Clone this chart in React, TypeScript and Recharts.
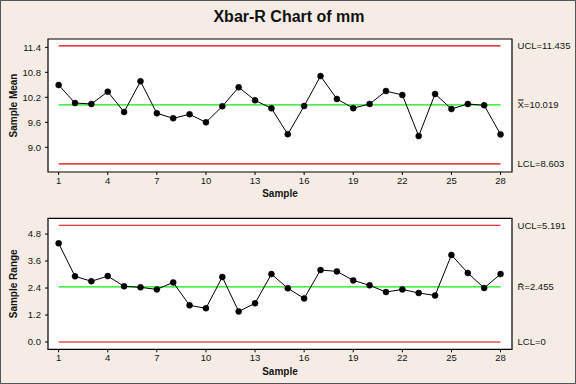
import { LineChart, Line, XAxis, YAxis, ReferenceLine, ReferenceArea } from 'recharts'

const samples = Array.from({ length: 28 }, (_, i) => i + 1)
const sampleMeans = [
  10.495, 10.063, 10.04, 10.335, 9.847, 10.584, 9.816, 9.696, 9.792, 9.6,
  9.984, 10.44, 10.128, 9.936, 9.312, 9.99, 10.71, 10.16, 9.94, 10.04,
  10.35, 10.256, 9.27, 10.28, 9.92, 10.04, 10.008, 9.31,
]
const sampleRanges = [
  4.386, 2.92, 2.7, 2.93, 2.475, 2.43, 2.34, 2.65, 1.63, 1.5,
  2.89, 1.36, 1.72, 3.02, 2.39, 1.94, 3.2, 3.14, 2.74, 2.52,
  2.22, 2.34, 2.18, 2.07, 3.87, 3.07, 2.4, 3.02,
]
const xTicks = [1, 4, 7, 10, 13, 16, 19, 22, 25, 28]
const meanTicks = [9.0, 9.6, 10.2, 10.8, 11.4]
const rangeTicks = [0, 1.2, 2.4, 3.6, 4.8]
const meanLimits = { ucl: 11.435, center: 10.019, lcl: 8.603 }
const rangeLimits = { ucl: 5.191, center: 2.455, lcl: 0 }

const meanData = samples.map((s, i) => ({ sample: s, value: sampleMeans[i] }))
const rangeData = samples.map((s, i) => ({ sample: s, value: sampleRanges[i] }))

const FONT = '"Liberation Sans", Arial, sans-serif'
const tick = { fontSize: 9.5, fill: '#141414', fontFamily: FONT }
const red = '#E00000'
const green = '#10E810'

const xDomain: [number, number] = [0.35, 28.7]

function limitLabel(text: string) {
  return { value: text, position: 'right' as const, offset: 17, fontSize: 9.5, fill: '#141414', fontFamily: FONT }
}

function ControlChart(props: {
  data: { sample: number; value: number }[]
  domain: [number, number]
  ticks: number[]
  limits: { ucl: number; center: number; lcl: number }
  yLabel: string
  centerText: string
  uclText: string
  lclText: string
  marginTop: number
  marginBottom: number
  height: number
  labelOffset: number
}) {
  const { data, domain, ticks, limits } = props
  // control limits run from the first to the last sample only
  const seg = (y: number) => [{ x: 1, y }, { x: 28, y }]
  return (
    <LineChart
      width={576}
      height={props.height}
      data={data}
      margin={{ top: props.marginTop, right: 64, bottom: props.marginBottom, left: 8 }}
    >
      <XAxis
        dataKey="sample"
        type="number"
        domain={xDomain}
        ticks={xTicks}
        tick={tick}
        tickSize={3}
        tickMargin={2}
        tickLine={{ stroke: '#000' }}
        axisLine={false}
        height={28}
        label={{ value: 'Sample', position: 'insideBottom', offset: props.labelOffset, fontSize: 10, fontWeight: 'bold', fill: '#141414', fontFamily: FONT }}
      />
      <YAxis
        type="number"
        domain={domain}
        ticks={ticks}
        tick={tick}
        tickFormatter={(v: number) => v.toFixed(1)}
        tickSize={3}
        tickMargin={4}
        tickLine={{ stroke: '#000' }}
        axisLine={false}
        width={40}
        allowDataOverflow
        label={{ value: props.yLabel, angle: -90, position: 'insideLeft', offset: 0, dx: 5, fontSize: 10, fontWeight: 'bold', fill: '#141414', fontFamily: FONT, style: { textAnchor: 'middle' } }}
      />
      <ReferenceArea x1={xDomain[0]} x2={xDomain[1]} y1={domain[0]} y2={domain[1]} fill="#ffffff" fillOpacity={1} stroke="#000" strokeWidth={1.2} />
      <ReferenceLine segment={seg(limits.ucl)} stroke={red} strokeWidth={1.2} label={limitLabel(props.uclText)} />
      <ReferenceLine segment={seg(limits.center)} stroke={green} strokeWidth={1.3} label={limitLabel(props.centerText)} />
      <ReferenceLine segment={seg(limits.lcl)} stroke={red} strokeWidth={1.2} label={limitLabel(props.lclText)} />
      <Line
        dataKey="value"
        type="linear"
        stroke="#000"
        strokeWidth={1}
        dot={{ r: 3, fill: '#000', stroke: '#000', strokeWidth: 0.5 }}
        isAnimationActive={false}
      />
    </LineChart>
  )
}

export default function App() {
  return (
    <div
      style={{
        position: 'fixed',
        top: 0,
        left: 0,
        width: 576,
        height: 384,
        boxSizing: 'border-box',
        border: '1px solid #555',
        background: '#F4ECE5',
        overflow: 'hidden',
        fontFamily: FONT,
      }}
    >
      <div
        style={{
          position: 'absolute',
          top: 7,
          left: 0,
          width: 576,
          textAlign: 'center',
          fontSize: 16,
          fontWeight: 'bold',
          color: '#111',
        }}
      >
        Xbar-R Chart of mm
      </div>
      <div style={{ position: 'absolute', top: -1, left: -1 }}>
        <ControlChart
          data={meanData}
          domain={[8.407, 11.6]}
          ticks={meanTicks}
          limits={meanLimits}
          yLabel="Sample Mean"
          uclText="UCL=11.435"
          centerText={'X\u033F=10.019'}
          lclText="LCL=8.603"
          marginTop={39}
          marginBottom={0}
          height={200}
          labelOffset={3}
        />
      </div>
      <div style={{ position: 'absolute', top: 199, left: -1 }}>
        <ControlChart
          data={rangeData}
          domain={[-0.324, 5.5]}
          ticks={rangeTicks}
          limits={rangeLimits}
          yLabel="Sample Range"
          uclText="UCL=5.191"
          centerText={'R\u0304=2.455'}
          lclText="LCL=0"
          marginTop={18.3}
          marginBottom={6.7}
          height={184}
          labelOffset={2}
        />
      </div>
    </div>
  )
}
